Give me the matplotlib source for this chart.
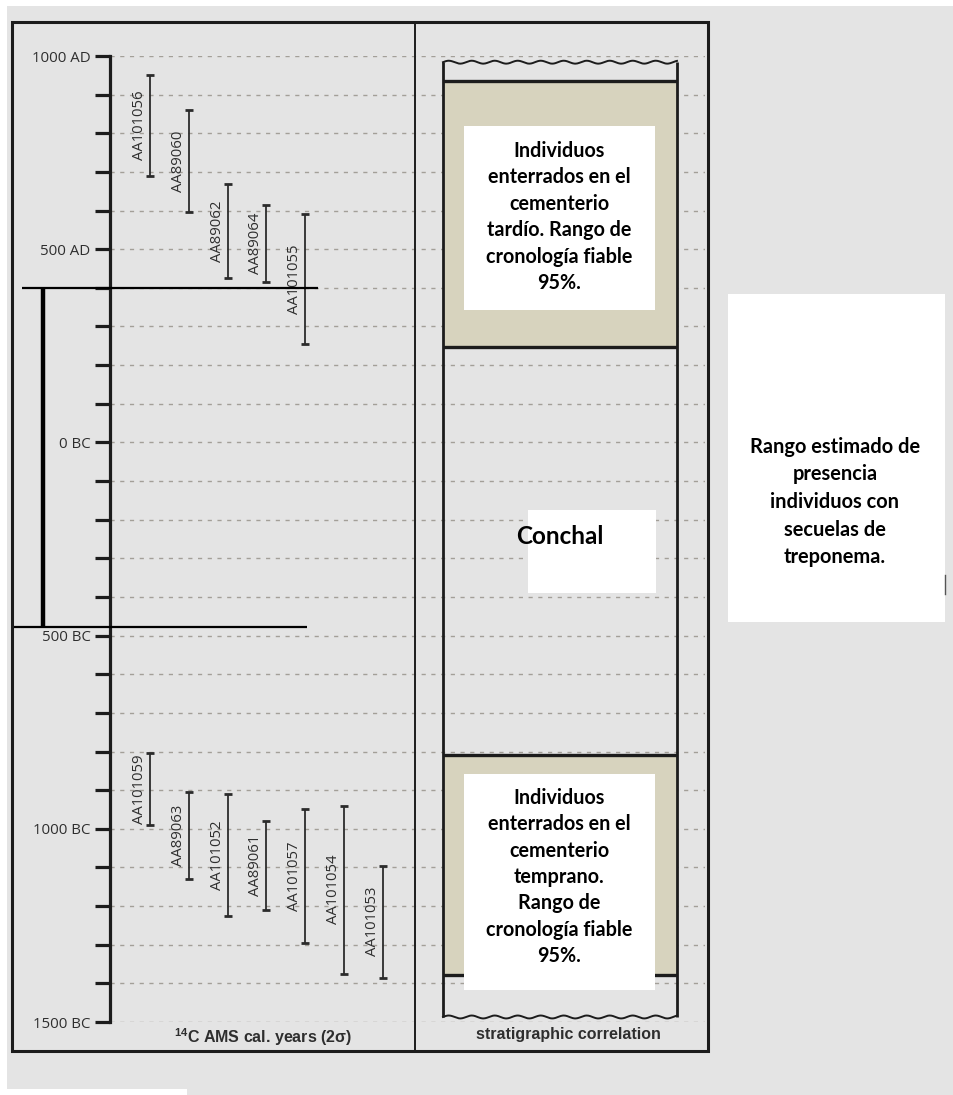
import numpy as np
import matplotlib
matplotlib.use("Agg")
import matplotlib.pyplot as plt
from matplotlib.patches import Rectangle
from matplotlib.ticker import FixedLocator, FixedFormatter, MultipleLocator

plt.rcParams["mathtext.fontset"] = "custom"
plt.rcParams["mathtext.rm"] = "Liberation Sans"
plt.rcParams["mathtext.bf"] = "Liberation Sans:bold"

# ---------------- data ----------------
late_ids = ["AA101056", "AA89060", "AA89062", "AA89064", "AA101055"]
late_young = [950, 860, 670, 615, 590]
late_old = [690, 595, 425, 415, 255]

early_ids = ["AA101059", "AA89063", "AA101052", "AA89061", "AA101057", "AA101054", "AA101053"]
early_young = [-805, -905, -910, -980, -950, -940, -1095]
early_old = [-990, -1130, -1225, -1210, -1295, -1375, -1385]

tick_years = [1000, 500, 0, -500, -1000, -1500]
tick_labels = ["1000 AD", "500 AD", "0 BC", "500 BC", "1000 BC", "1500 BC"]

late_cemetery = (935, 247)      # years (top, bottom)
early_cemetery = (-809, -1378)
column_span = (984, -1487)
treponema_range = (400, -478)

late_text = "Individuos\nenterrados en el\ncementerio\ntardío. Rango de\ncronología fiable\n95%."
early_text = "Individuos\nenterrados en el\ncementerio\ntemprano.\nRango de\ncronología fiable\n95%."
middle_text = "Conchal"
right_text = "Rango estimado de\npresencia\nindividuos con\nsecuelas de\ntreponema."
xlabel_left = r"$^{\mathbf{14}}$C AMS cal. years (2σ)"
xlabel_right = "stratigraphic correlation"

# ---------------- figure ----------------
W, H = 954, 1095
fig = plt.figure(figsize=(W / 100, H / 100), dpi=100, facecolor="#e4e4e4")
INK = "#1c1c1c"
TXT = "#2e2e2e"


def fx(x):
    return x / W


def fy(y):
    return 1 - y / H


ax = fig.add_axes([fx(110), fy(1022), fx(705) - fx(110), fy(56) - fy(1022)])
ax.set_xlim(110, 705)
ax.set_ylim(-1500, 1000)
ax.patch.set_visible(False)
for s in ["top", "right", "bottom"]:
    ax.spines[s].set_visible(False)
ax.spines["left"].set_linewidth(2.3)
ax.spines["left"].set_color(INK)
ax.yaxis.set_major_locator(FixedLocator(tick_years))
ax.yaxis.set_major_formatter(FixedFormatter(tick_labels))
ax.yaxis.set_minor_locator(MultipleLocator(100))
ax.tick_params(axis="y", which="both", direction="out", length=11, width=2.3,
               color=INK, pad=3, labelsize=10.8, labelcolor=TXT)
for lab in ax.get_yticklabels():
    lab.set_family("Open Sans")
ax.set_xticks([])
ax.grid(axis="y", which="both", linestyle=(0, (3, 4)), color="#a39f98", linewidth=1.0, zorder=0)

# error bars + labels
step = 38.8
for ids, young, old in [(late_ids, late_young, late_old), (early_ids, early_young, early_old)]:
    xs = 150 + step * np.arange(len(ids))
    young = np.array(young, dtype=float)
    old = np.array(old, dtype=float)
    mid = (young + old) / 2
    half = (young - old) / 2
    ax.errorbar(xs, mid, yerr=half, fmt="none", ecolor="#2b2b2b", elinewidth=1.3,
                capsize=2.6, capthick=2.0, zorder=4)
    for x, m, lab in zip(xs, mid, ids):
        ax.text(x - 3, m, lab, rotation=90, ha="right", va="center", fontsize=10.7,
                family="Open Sans", color=TXT, zorder=5)

# stratigraphic column
cx0, cx1 = 443, 677
for top, bot in [late_cemetery, early_cemetery]:
    ax.add_patch(Rectangle((cx0, bot), cx1 - cx0, top - bot, facecolor="#d7d3be",
                           edgecolor="none", zorder=2))
    ax.hlines([top, bot], cx0, cx1, color=INK, linewidth=2.4, zorder=3)
ax.vlines([cx0, cx1], column_span[1], column_span[0], color=INK, linewidth=2.0, zorder=3)
xw = np.linspace(cx0, cx1, 400)
wave = 3.8 * np.sin(2 * np.pi * (xw - cx0) / 23.0)
ax.plot(xw, column_span[0] + wave, color=INK, linewidth=1.4, zorder=3)
ax.plot(xw, column_span[1] + wave, color=INK, linewidth=1.4, zorder=3)

# treponema presence range annotation
ax.hlines(treponema_range[0], 22, 318, color="black", linewidth=1.6, clip_on=False, zorder=6)
ax.hlines(treponema_range[1], 12, 307, color="black", linewidth=1.6, clip_on=False, zorder=6)
ax.vlines(43, treponema_range[1], treponema_range[0], color="black", linewidth=3.2,
          clip_on=False, zorder=6)

# ---------------- overlay (pixel layout) ----------------
ov = fig.add_axes([0, 0, 1, 1])
ov.set_xlim(0, W)
ov.set_ylim(H, 0)
ov.axis("off")
ov.patch.set_visible(False)

# white scan margins
ov.add_patch(Rectangle((0, 0), W, 6, facecolor="white", edgecolor="none"))
ov.add_patch(Rectangle((0, 0), 7, H, facecolor="white", edgecolor="none"))
ov.add_patch(Rectangle((0, 1089), 187, 6, facecolor="white", edgecolor="none"))

# frame and divider
ov.add_patch(Rectangle((12, 22), 696, 1029, fill=False, edgecolor=INK, linewidth=2.2))
ov.plot([415, 415], [22, 1051], color=INK, linewidth=1.4)

# bottom labels
ov.text(263, 1037, xlabel_left, ha="center", va="center", fontsize=11.5,
        family="Liberation Sans", weight="bold", color=TXT)
ov.text(568, 1035, xlabel_right, ha="center", va="center", fontsize=11.5,
        family="Liberation Sans", weight="bold", color=TXT)

# white text boxes
boxes = [
    ((464, 126, 191, 184), late_text, 14.2, (559.5, 217), 1.4),
    ((464, 774, 191, 216), early_text, 14.2, (559.5, 877), 1.4),
    ((528, 510, 128, 83), middle_text, 17.5, (560, 537), 1.2),
    ((728, 294, 217, 328), right_text, 14.4, (835, 502), 1.48),
]
for (bx, by, bw, bh), txt, fs, (tx, ty), ls in boxes:
    ov.add_patch(Rectangle((bx, by), bw, bh, facecolor="white", edgecolor="none", zorder=7))
    ov.text(tx, ty, txt, ha="center", va="center", fontsize=fs, family="Lato",
            weight="bold", color="black", linespacing=ls, zorder=8)

ov.plot([945, 945], [575, 594], color="#555555", linewidth=1.0, zorder=8)

fig.savefig("out.png", dpi=100, facecolor=fig.get_facecolor())
